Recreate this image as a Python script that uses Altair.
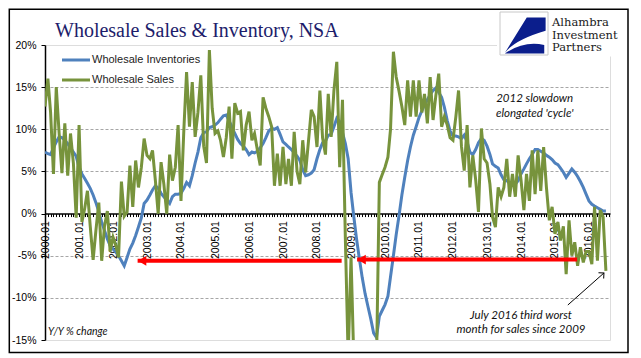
import altair as alt
import pandas as pd

# ---------------- data ----------------
series_names = ["Wholesale Inventories", "Wholesale Sales"]
series_colors = ["#4F81BD", "#77933C"]
first_month = "2000-01-01"

inventories = [
    7.3, 7.1, 7.0, 7.8, 8.5, 9.1, 9.0, 8.7, 8.3, 7.8, 7.3, 6.8,          # 2000
    5.5, 4.7, 4.2, 3.6, 3.0, 2.2, 1.3, 0.2, -1.0, -2.0, -3.0, -3.8,      # 2001
    -4.2, -4.6, -5.0, -5.6, -6.2, -5.2, -4.2, -3.5, -2.6, -1.6, -0.5, 1.2,  # 2002
    1.6, 2.2, 2.8, 3.3, 3.0, 2.4, 2.0, 1.6, 1.2, 2.0, 2.3, 2.3,          # 2003
    2.4, 3.0, 3.7, 3.3, 4.5, 6.0, 7.3, 9.0, 9.6, 9.7, 10.2, 10.3,        # 2004
    10.5, 10.8, 11.2, 11.6, 11.7, 11.0, 10.3, 9.5, 8.8, 8.3, 8.0, 7.6,   # 2005
    7.0, 7.3, 7.2, 7.4, 7.8, 8.3, 9.0, 9.8, 10.1, 10.0, 10.2, 9.4,       # 2006
    8.5, 8.2, 7.9, 7.6, 7.2, 6.8, 6.3, 5.2, 4.5, 4.6, 4.8, 5.2,          # 2007
    6.5, 7.6, 8.4, 8.6, 9.3, 9.4, 10.3, 11.3, 10.9, 9.6, 8.3, 6.5,       # 2008
    2.5, -0.5, -3.0, -5.4, -7.6, -9.5, -11.0, -12.5, -14.2, -14.7, -12.2, -11.5,  # 2009
    -10.8, -9.8, -7.5, -5.0, -2.5, -0.2, 2.2, 4.3, 6.3, 7.9, 9.3, 10.3,  # 2010
    11.4, 12.2, 12.9, 13.5, 14.1, 14.6, 14.9, 14.4, 13.8, 12.6, 11.0, 9.8,  # 2011
    9.2, 9.2, 9.1, 8.9, 9.3, 8.5, 7.3, 7.0, 7.6, 8.4, 8.9, 8.7,          # 2012
    8.0, 7.0, 5.9, 5.6, 5.4, 4.6, 4.0, 3.9, 3.6, 3.5, 3.5, 3.9,          # 2013
    4.7, 5.3, 5.9, 6.5, 7.0, 7.6, 7.6, 7.4, 7.2, 6.9, 6.7, 6.4,          # 2014
    6.0, 5.8, 5.4, 4.9, 4.3, 4.8, 5.3, 4.9, 4.4, 3.8, 3.1, 2.3,          # 2015
    1.5, 1.1, 0.9, 0.7, 0.5, 0.3, 0.3,                                   # 2016
]

sales = [
    12.7, 16.0, 12.0, 4.7, 15.0, 9.5, 4.8, 10.7, 4.5, 9.5, 6.0, -0.5,    # 2000
    10.5, -1.0, 0.5, 2.7, -1.5, -5.5, -2.0, 1.3, -5.6, -1.5, 0.3, -4.5,  # 2001
    -2.8, -3.8, -5.2, 3.8, -0.3, 0.2, 5.7, 0.8, 6.3, 3.1, 5.5, 8.9,      # 2002
    6.9, 6.5, 7.5, 3.9, 0.0, 6.1, 3.5, 0.0, 7.0, 3.9, 5.5, 10.5,         # 2003
    1.5, 10.0, 16.8, 10.3, 15.6, 9.1, 12.0, 16.4, 8.0, 6.0, 19.4, 12.5,  # 2004
    9.5, 9.8, 8.7, 6.7, 9.0, 12.7, 6.5, 13.1, 11.9, 12.1, 7.5, 10.5,     # 2005
    12.1, 8.7, 9.5, 7.5, 5.7, 13.8, 12.5, 11.5, 10.3, 3.3, 7.1, 3.3,     # 2006
    7.9, 3.5, 6.5, 3.3, 9.7, 5.0, 3.5, 8.7, 4.9, 8.5, 12.3, 11.5,        # 2007
    7.9, 14.6, 9.0, 7.0, 14.2, 9.1, 14.6, 18.0, 5.5, 13.5, -3.0, -17.0,  # 2008
    -5.2, -18.0, -21.0, -23.0, -25.0, -20.0, -24.0, -22.0, -19.0, -18.0, 3.7, 4.6,  # 2009
    5.5, 6.7, 10.0, 19.2, 16.2, 14.5, 12.7, 10.5, 15.8, 11.5, 15.8, 11.5,  # 2010
    15.8, 12.0, 14.2, 10.7, 16.2, 11.1, 14.0, 16.6, 10.3, 11.5, 10.5, 9.0,  # 2011
    8.7, 11.5, 14.6, 8.0, 5.1, 10.5, 3.1, 6.9, 4.0, 0.2, 10.1, 6.5,      # 2012
    6.0, 3.5, -0.4, -1.6, 3.1, 2.0, 3.1, 6.5, 2.0, 4.7, 2.0, 6.9,        # 2013
    4.0, 0.4, 4.7, 1.5, 7.5, 2.3, 7.5, 2.7, 7.9, 3.1, -0.8, 0.8,         # 2014
    -2.4, -1.0, -3.2, -1.5, -7.2, -0.8, -5.0, -3.4, -6.2, -4.0, -5.8, -4.5,  # 2015
    -4.5, -6.0, 0.8, -5.6, 0.4, -0.4, -6.8,                              # 2016
]

y_ticks = [20, 15, 10, 5, 0, -5, -10, -15]

# red arrows (tip at left, tail at right)
arrow_tips = ["2002-09-22", "2009-03-07"]
arrow_tails = ["2008-09-22", "2015-08-27"]
arrow_levels = [-5.6, -5.45]

# annotation texts
note_texts = ["2012 slowdown", "elongated 'cycle'", "July 2016 third worst", "month for sales since 2009"]
note_dates = ["2014-05-28", "2014-05-28", "2014-01-01", "2014-01-01"]
note_levels = [13.6, 11.8, -12.1, -13.8]

pointer_from = ["2015-05-19", -10.85]
pointer_to = ["2016-06-10", -7.05]

unit_text = "Y/Y % change"
unit_pos = ["2000-02-02", -14.05]

title_text = "Wholesale Sales & Inventory, NSA"
logo_lines = ["Alhambra", "Investment", "Partners"]

# ---------------- frames ----------------
n = len(sales)
months = pd.date_range(first_month, periods=n, freq="MS")
df = pd.DataFrame({
    "date": list(months) + list(months),
    "value": inventories + sales,
    "series": [series_names[0]] * n + [series_names[1]] * n,
})

arrows_df = pd.DataFrame({"date": pd.to_datetime(arrow_tips), "date2": pd.to_datetime(arrow_tails),
                          "value": arrow_levels})
notes_df = pd.DataFrame({"date": pd.to_datetime(note_dates), "value": note_levels, "text": note_texts})
pointer_df = pd.DataFrame({"date": [pd.Timestamp(pointer_from[0])], "value": [pointer_from[1]],
                           "date2": [pd.Timestamp(pointer_to[0])], "value2": [pointer_to[1]]})
head_df = pd.DataFrame({"date": [pd.Timestamp(pointer_to[0])], "value": [pointer_to[1]]})
unit_df = pd.DataFrame({"date": [pd.Timestamp(unit_pos[0])], "value": [unit_pos[1]], "text": [unit_text]})
one = pd.DataFrame({"k": [0]})

W, H = 565, 295
axis_font = "Liberation Sans Narrow, Arial Narrow, Liberation Sans, Arial"
note_font = "Lato, Open Sans, DejaVu Sans"
serif = "Liberation Serif, Times New Roman, DejaVu Serif"

x_scale = alt.Scale(domain=[alt.DateTime(year=2000, month=1, date=1), alt.DateTime(year=2016, month=8, date=14)])
y_scale = alt.Scale(domain=[-15, 20], nice=False, zero=False)

x_tick_values = [alt.DateTime(year=2000 + i // 12, month=i % 12 + 1, date=1) for i in range(200)]
zero_offset = -(H - H * 20 / 35)

x_axis = alt.Axis(
    values=x_tick_values,
    labelExpr="month(datum.value) === 0 ? timeFormat(datum.value, '%Y.%m') : ''",
    labelAngle=270, labelFont=axis_font, labelFontSize=10.5, labelColor="#000",
    labelPadding=4, labelOverlap=False, labelBound=False, labelFlush=False,
    tickSize=3, tickColor="#000", tickWidth=1,
    domainColor="#000", domainWidth=1.5, offset=zero_offset, grid=False, title=None,
)
y_axis = alt.Axis(
    values=y_ticks, labelExpr="datum.value + '%'",
    labelFont=axis_font, labelFontSize=10.5, labelColor="#000", labelPadding=5,
    tickSize=4, tickColor="#000", domainColor="#000", domainWidth=1.5, title=None,
    grid=True, gridColor="#A6A6A6", gridDash=[3, 2], gridWidth=1,
    gridOpacity={"condition": {"test": "datum.value === 0 || datum.value === 20 || datum.value === -15", "value": 0}, "value": 1},
)

X = alt.X("date:T", scale=x_scale, axis=x_axis)
Y = alt.Y("value:Q", scale=y_scale, axis=y_axis)

lines = alt.Chart(df).mark_line(strokeWidth=3, clip=True).encode(
    x=X, y=Y,
    color=alt.Color("series:N", scale=alt.Scale(domain=series_names, range=series_colors), legend=None),
    order=alt.Order("date:T"),
)

arrow_shafts = alt.Chart(arrows_df).mark_rule(color="#FF0000", strokeWidth=4).encode(
    x=X, x2="date2:T", y=Y,
)
arrow_heads = alt.Chart(arrows_df).mark_point(
    shape="triangle-left", filled=True, size=95, color="#FF0000", opacity=1, xOffset=4.5
).encode(x=X, y=Y)

notes = alt.Chart(notes_df).mark_text(
    font=note_font, fontSize=11.5, fontStyle="italic", color="#111", align="center", baseline="middle"
).encode(x=X, y=Y, text="text:N")

unit_note = alt.Chart(unit_df).mark_text(
    font=note_font, fontSize=10.5, fontStyle="italic", color="#111", align="left", baseline="middle"
).encode(x=X, y=Y, text="text:N")

pointer_line = alt.Chart(pointer_df).mark_rule(color="#000", strokeWidth=1).encode(
    x=X, y=Y, x2="date2:T", y2="value2:Q"
)
pointer_head = alt.Chart(head_df).mark_point(
    shape="M-1,1L0,0L1,1", filled=False, size=60, angle=48, color="#000", strokeWidth=1, opacity=1
).encode(x=X, y=Y)

# manual legend
legend_layers = []
for i, name in enumerate(series_names):
    legend_layers.append(alt.Chart(one).mark_rule(strokeWidth=3, color=series_colors[i]).encode(
        x=alt.value(17), x2=alt.value(45), y=alt.value(15 + 20 * i)))
    legend_layers.append(alt.Chart(one).mark_text(
        text=name, font="Liberation Sans, Arial", fontSize=11, color="#222", align="left", baseline="middle"
    ).encode(x=alt.value(47), y=alt.value(15 + 20 * i)))

# outer frame
frame = alt.Chart(one).mark_rect(filled=False, stroke="#000", strokeWidth=1.5).encode(
    x=alt.value(-35.7), x2=alt.value(583), y=alt.value(-35.7), y2=alt.value(307.5))

# title
title = alt.Chart(one).mark_text(
    text=title_text, font=serif, fontSize=20, color="#1d1d6b", align="left", baseline="alphabetic"
).encode(x=alt.value(10), y=alt.value(-8.5))

# logo
logo_cover = alt.Chart(one).mark_rect(fill="white", strokeWidth=0).encode(
    x=alt.value(452), x2=alt.value(581), y=alt.value(-34), y2=alt.value(11.5))
logo_box = alt.Chart(one).mark_rect(fill="white", stroke="#C8C8C8", strokeWidth=1).encode(
    x=alt.value(455), x2=alt.value(503), y=alt.value(-33), y2=alt.value(10))
logo_upper = alt.Chart(one).mark_point(
    shape="M0.12,-0.7L0.94,-0.7L0.94,-0.12Q-0.4,0.27,-0.83,0.84Z",
    filled=True, size=2116, color="#0B1E8C", opacity=1, strokeWidth=0
).encode(x=alt.value(479), y=alt.value(-11.5))
logo_lower = alt.Chart(one).mark_point(
    shape="M-0.83,0.87Q0.0,0.3,0.88,0.5L0.88,0.87Z",
    filled=True, size=2116, color="#0B1E8C", opacity=1, strokeWidth=0
).encode(x=alt.value(479), y=alt.value(-11.5))
logo_words = [
    alt.Chart(one).mark_text(
        text=word, font="DejaVu Serif", fontSize=11.5, color="#1a1a1a", align="left", baseline="alphabetic"
    ).encode(x=alt.value(507), y=alt.value(-19.3 + 12.8 * i))
    for i, word in enumerate(logo_lines)
]

chart = alt.layer(
    lines, arrow_shafts, arrow_heads, pointer_line, pointer_head, notes, unit_note,
    *legend_layers, logo_cover, logo_box, logo_upper, logo_lower, *logo_words, title, frame,
).properties(
    width=W, height=H,
    padding={"left": 37, "top": 37, "right": 20, "bottom": 14},
    autosize=alt.AutoSizeParams(type="none"),
).configure_view(stroke="#8C8C8C", strokeWidth=1).configure(background="white")

chart.save("out.html", embed_options={"renderer": "svg", "actions": False})
